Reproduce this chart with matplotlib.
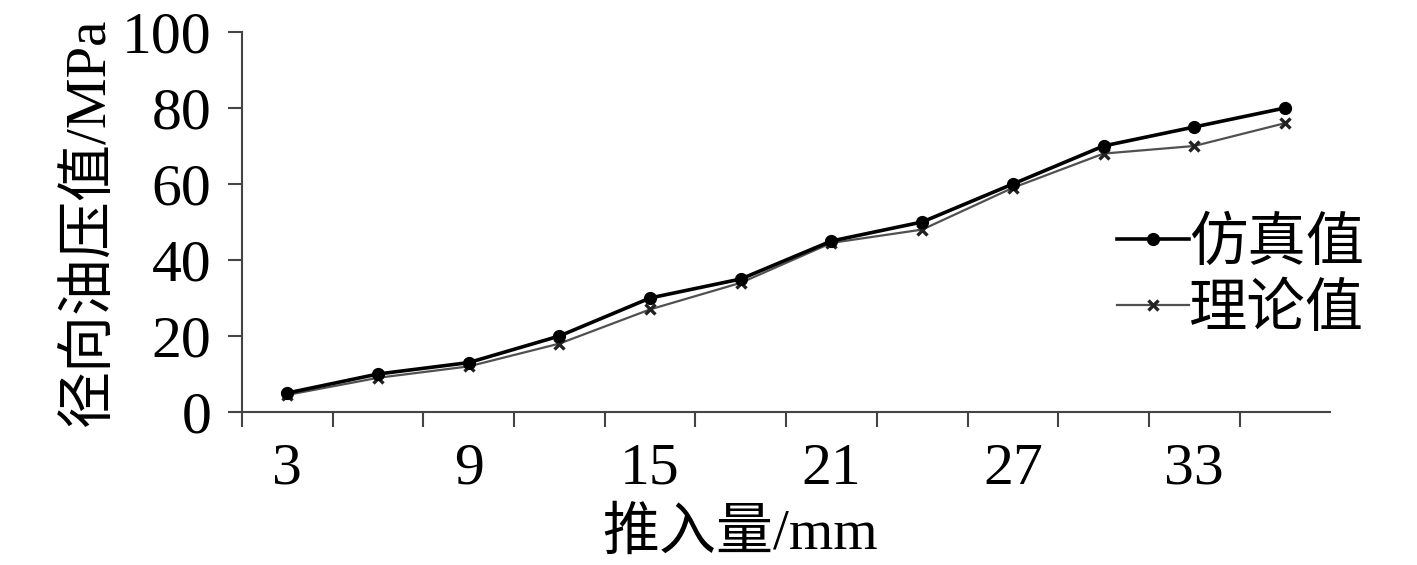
import matplotlib

matplotlib.use("Agg")

import matplotlib.pyplot as plt
import numpy as np

# ---------------------------------------------------------------------------
#  data  ---------------------------------------------------------------------
# ---------------------------------------------------------------------------
push_mm = [3, 6, 9, 12, 15, 18, 21, 24, 27, 30, 33, 36]
sim_mpa = [5, 10, 13, 20, 30, 35, 45, 50, 60, 70, 75, 80]
theory_mpa = [4.5, 9, 12, 18, 27, 34, 44.5, 48, 59, 68, 70, 76]
yticks = [0, 20, 40, 60, 80, 100]

FONT = ["Liberation Serif", "Noto Sans CJK SC"]
plt.rcParams["font.family"] = FONT

fig = plt.figure(figsize=(14.17, 5.65), dpi=100)
ax = fig.add_axes([0.1708, 0.2708, 0.768, 0.6726])

pos = np.arange(len(push_mm))
ax.plot(pos, sim_mpa, color="black", lw=2.6, marker="o", ms=8.5,
        label="仿真值", zorder=3)
ax.plot(pos, theory_mpa, color="#505050", lw=1.6, marker="x", ms=7.5, mew=2.4,
        mec="#222222", label="理论值", zorder=2)

# category axis: tick marks between categories, labels every other one
ax.set_xlim(-0.5, len(push_mm) - 0.5)
ax.set_xticks(pos[::2])
ax.set_xticklabels([str(v) for v in push_mm[::2]])
ax.set_xticks(np.arange(-0.5, len(push_mm) - 0.5, 1), minor=True)
ax.tick_params(axis="x", which="major", length=0, pad=22, labelsize=43)
ax.tick_params(axis="x", which="minor", direction="out", length=11,
               width=1.5, color="#444444")

ax.set_ylim(0, 100)
ax.set_yticks(yticks)
ax.tick_params(axis="y", direction="out", length=10, width=1.5,
               color="#444444", pad=12, labelsize=43)

for side in ("top", "right"):
    ax.spines[side].set_visible(False)
for side in ("left", "bottom"):
    ax.spines[side].set_linewidth(1.5)
    ax.spines[side].set_color("#444444")

ax.set_xlabel("推入量/mm", fontsize=41, labelpad=8, x=0.458)
ax.set_ylabel("径向油压值/MPa", fontsize=41, labelpad=4)

ax.legend(loc="center left", bbox_to_anchor=(0.788, 0.509),
          bbox_transform=fig.transFigure, frameon=False, fontsize=42,
          handlelength=1.24, handletextpad=0.0, labelspacing=0.2,
          borderpad=0, borderaxespad=0)

fig.savefig("out.png", dpi=100)
